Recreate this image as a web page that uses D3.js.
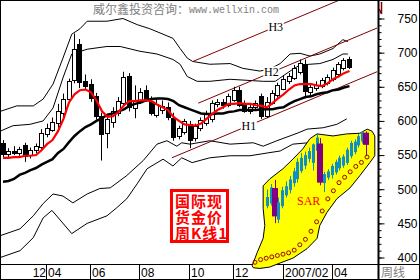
<!DOCTYPE html>
<html>
<head>
<meta charset="utf-8">
<script src="https://cdn.jsdelivr.net/npm/d3@7"></script>
<style>
html, body { margin: 0; padding: 0; background: #fff; }
svg { display: block; }
</style>
</head>
<body>
<div id="chart"></div>
<script>
// weekly gold, one candle per week (index 0 = week ending 2006-02-10)
const weekOpen = [568,552,556,553,565,549,557,563,581,588,
    596,612,632,660,712,658,654,636,607,582,
    598,612,627,666,618,630,646,629,609,616,
    620,604,578,584,596,575,590,597,602,624,
    628,624,632,646,625,614,620,636,607,627,
    638,648,658,664,672,684,642,648,651,655,
    661,668,677,691];
const weekHigh = [572,560,563,562,568,561,567,588,596,605,
    625,640,662,728,720,668,661,641,612,607,
    620,635,672,670,652,648,652,636,632,630,
    627,612,593,603,600,596,605,615,630,632,
    632,640,650,650,630,624,630,640,635,645,
    656,667,670,682,690,690,655,658,663,668,
    678,686,692,694];
const weekLow = [547,546,550,549,540,545,553,558,576,584,
    590,606,626,655,648,645,628,602,542,560,
    590,607,622,614,604,625,628,608,605,610,
    601,571,573,580,560,570,585,593,598,620,
    618,620,628,620,612,610,616,603,604,624,
    634,645,654,660,668,633,638,644,648,652,
    658,665,674,676];
const weekClose = [552,556,553,559,549,557,563,583,590,599,
    614,632,659,705,657,651,633,607,581,603,
    614,629,665,621,630,643,632,612,625,622,
    606,576,590,600,572,592,601,612,626,627,
    623,637,646,624,615,620,626,606,628,641,
    652,662,666,678,685,645,650,653,660,664,
    674,683,689,680];

// moving averages
const maRed = [546,546,547,547,549,549,550,557,566,572,
    585,603,627,639,645,646,642,630,614,606,
    607,613,623,629,629,630,630,629,624,620,
    616,606,600,595,594,593,596,603,610,616,
    620,625,625,626,625,625,623,622,620,626,
    633,639,646,652,654,654,654,652,651,655,
    661,665,670,673];
const maBlack = [511,512,515,521,524,528,531,536,540,544,
    553,559,569,578,585,591,595,600,604,609,
    611,614,617,622,625,627,630,632,633,633,
    632,629,623,620,617,614,611,610,610,611,
    611,613,614,616,616,616,616,617,617,617,
    619,620,625,629,632,635,636,639,641,642,
    645,646,649,651];

// band lines as [week, price]
const bandUpperOuter = [[-0.5,614],[2.5,622],[5.5,622],[7.3,632],[9.1,654],[10.9,692],[12.5,727],[14,735],
    [15.3,746],[18.9,746],[21.8,750],[24.4,741],[26.7,735],[29.1,727],[30.9,721],[32.2,706],[33.5,692],
    [34.5,687],[37.6,683],[41.3,684],[43.6,677],[46.7,673],[48.5,676],[50.4,684],[52.2,698],[54,699],
    [55.8,695],[57.6,698],[60,706],[61.8,719],[62.7,716]];
const bandUpperInner = [[-0.5,585],[1.8,593],[4.9,595],[7.3,600],[9.1,619],[10.9,663],[12.5,698],[15.3,705],
    [18.9,709],[21.3,709],[24.9,702],[28,698],[30.9,690],[32.2,683],[33.5,665],[35.3,658],[37.6,658],
    [41.3,661],[47.3,658],[49.5,658],[52.2,673],[54,682],[55.8,683],[57.6,684],[60,690],[61.8,698],[62.7,698]];
const bandLowerInner = [[-0.5,432],[3.1,442],[5.5,461],[7.3,479],[9.1,493],[10.9,490],[12.7,480],[15.3,493],
    [17.6,501],[19.5,502],[22.5,520],[25.5,542],[28,566],[29.8,571],[31.6,563],[32.5,568],[34,566],
    [37.6,571],[41.3,566],[45.5,568],[47.3,563],[49.8,571],[53.5,582],[55.3,588],[58.2,590],[60.7,595],[62.5,603]];
const bandLowerOuter = [[-0.5,400],[3.1,410],[5.5,429],[7.3,458],[8.9,469],[12.5,435],[15.3,450],[18.9,461],
    [20.7,473],[22.5,486],[24.4,508],[26.2,530],[29.1,544],[30.9,534],[32.5,546],[34.4,539],[37.6,546],
    [41.3,549],[44.9,549],[48,553],[50.4,556],[52.7,566],[55.5,568],[58.5,571],[62.5,578]];

// trend channel
const channelNames = ["H1", "H2", "H3"];
const channelLines = [[[30.7,546],[68,672]], [[35.5,626],[68,736]], [[34.5,687],[68,800]]];
const channelLabelWeek = [44.7, 48.8, 49.6];

const xTickWeeks = [8, 16, 25, 34, 42, 51, 60];
const xTickLabels = ["04", "06", "08", "10", "12", "2007/02", "04"];
const yTickValues = [400, 450, 500, 550, 600, 650, 700, 750];

// SAR inset
const sarOpen  = [644,646,657,634,644,652,656,661,664,670,674,679,676,685,690,661,665,667,669,672,674,676,681,684,689,692,698];
const sarClose = [650,657,636,646,655,658,663,669,676,679,681,684,689,694,661,667,669,673,676,679,680,685,690,691,695,698,689];
const sarHigh  = [656,660,663,650,658,662,666,672,679,683,684,687,690,697,694,669,671,675,678,681,682,687,692,693,697,699,699];
const sarLow   = [642,644,631,631,642,650,653,658,661,668,671,676,670,683,659,654,663,664,667,670,672,674,679,682,687,690,681];
const sarDots  = [602,604,605,606,607,608,609,611,615,619,625,632,640,649,655,661,665,669,673,676,680];
// highlight outline as [week, price]
const sarZone = [[45.3,388],[46.2,407],[47.3,428],[47.6,447],[47.3,472],[47.3,505],[48.5,515],[50.9,530],
    [52.7,544],[54.5,559],[55.8,574],[57.1,581],[60,578],[62.5,581],[64.9,582],[66.2,588],[67.1,585],
    [67.6,578],[67.6,549],[66.7,539],[64.9,520],[63.1,502],[60.7,486],[58.9,466],[57.6,447],[57.1,428],
    [55.3,413],[52.7,399],[50.4,392],[48.5,386],[46.7,384],[45.5,385]];

const width = 420, height = 280, plotRight = 378.5, plotBottom = 264.5;

const svg = d3.select("#chart").append("svg")
    .attr("width", width)
    .attr("height", height)
    .style("background", "#fff");

svg.append("defs").append("clipPath").attr("id", "plotClip")
    .append("rect").attr("x", 1).attr("y", 1).attr("width", 377).attr("height", 263);

const x = d3.scaleLinear().domain([0, 63]).range([3, 349.5]);
const y = d3.scaleLinear().domain([400, 750]).range([257.5, 18.5]);

const plot = svg.append("g").attr("clip-path", "url(#plotClip)");

const kpLine = d3.line().x(d => x(d[0])).y(d => y(d[1]));

[bandUpperOuter, bandUpperInner, bandLowerInner, bandLowerOuter].forEach(pts => {
    plot.append("path")
        .attr("d", kpLine(pts))
        .attr("fill", "none")
        .attr("stroke", "#000")
        .attr("stroke-width", 1);
});

channelLines.forEach(pts => {
    plot.append("path")
        .attr("d", kpLine(pts))
        .attr("fill", "none")
        .attr("stroke", "#800000")
        .attr("stroke-width", 1);
});

// candles
const idx = d3.range(weekOpen.length);
const candle = plot.selectAll(".candle")
    .data(idx)
    .enter()
    .append("g")
    .attr("class", "candle");

candle.append("line")
    .attr("x1", i => Math.round(x(i) - 2.5) + 2.5)
    .attr("x2", i => Math.round(x(i) - 2.5) + 2.5)
    .attr("y1", i => y(weekHigh[i]))
    .attr("y2", i => y(weekLow[i]))
    .attr("stroke", "#000");

candle.append("rect")
    .attr("x", i => Math.round(x(i) - 2.5) + 0.5)
    .attr("width", 4)
    .attr("y", i => Math.round(y(Math.max(weekOpen[i], weekClose[i]))) + 0.5)
    .attr("height", i => Math.max(1, Math.round(Math.abs(y(weekOpen[i]) - y(weekClose[i])))))
    .attr("fill", i => weekClose[i] >= weekOpen[i] ? "#fff" : "#000")
    .attr("stroke", "#000");

const maLine = d3.line().x((d, i) => x(i)).y(d => y(d));

plot.append("path")
    .attr("d", maLine(maBlack))
    .attr("fill", "none")
    .attr("stroke", "#000")
    .attr("stroke-width", 2.5);

plot.append("path")
    .attr("d", maLine(maRed))
    .attr("fill", "none")
    .attr("stroke", "#ff0000")
    .attr("stroke-width", 2.2);

// channel labels, placed on their lines
channelLines.forEach((pts, j) => {
    const along = d3.scaleLinear().domain([pts[0][0], pts[1][0]]).range([pts[0][1], pts[1][1]]);
    const cx = x(channelLabelWeek[j]);
    const cy = y(along(channelLabelWeek[j]));
    plot.append("rect")
        .attr("x", cx - 8).attr("y", cy - 6)
        .attr("width", 16).attr("height", 12)
        .attr("fill", "#fff");
    plot.append("text")
        .attr("x", cx).attr("y", cy + 4)
        .attr("text-anchor", "middle")
        .style("font-family", "'Liberation Serif', serif")
        .style("font-size", "12px")
        .attr("fill", "#000")
        .text(channelNames[j]);
});

// watermark
svg.append("text")
    .attr("x", 93).attr("y", 14)
    .style("font-family", "'Noto Sans CJK SC', sans-serif")
    .style("font-size", "12px")
    .attr("fill", "#808080")
    .text("威尔鑫投资咨询：");
svg.append("text")
    .attr("x", 189).attr("y", 13)
    .style("font-family", "'Liberation Mono', monospace")
    .style("font-size", "10px")
    .attr("fill", "#808080")
    .text("www.wellxin.com");

// red title box
svg.append("rect")
    .attr("x", 171.5).attr("y", 190.5)
    .attr("width", 56).attr("height", 51)
    .attr("fill", "#fff")
    .attr("stroke", "#ff0000")
    .attr("stroke-width", 3);
const boxText = svg.append("text")
    .style("font-family", "'Noto Sans CJK SC', sans-serif")
    .style("font-size", "15px")
    .style("font-weight", "bold")
    .style("letter-spacing", "1px")
    .attr("fill", "#ff0000");
["国际现", "货金价", "周K线1"].forEach((t, i) => {
    boxText.append("tspan")
        .attr("x", 175)
        .attr("y", 207 + i * 16)
        .text(t);
});

// bottom band line
svg.append("line").attr("x1", 0).attr("x2", width).attr("y1", plotBottom).attr("y2", plotBottom).attr("stroke", "#000");

// SAR inset
svg.append("path")
    .attr("d", d3.line().curve(d3.curveLinearClosed).x(d => x(d[0])).y(d => y(d[1]))(sarZone))
    .attr("fill", "#ffff00")
    .attr("stroke", "#000")
    .attr("stroke-width", 1);

const xIn = d3.scaleLinear().domain([0, sarOpen.length - 1]).range([267, 366]);
const xDot = d3.scaleLinear().domain([0, sarDots.length - 1]).range([255, 367]);
const yIn = d3.scaleLinear().domain([600, 700]).range([265, 130]);

const inset = svg.append("g");
const inCandle = inset.selectAll(".in-candle")
    .data(d3.range(sarOpen.length))
    .enter()
    .append("g");
inCandle.append("line")
    .attr("x1", i => Math.round(xIn(i)) + 0.5)
    .attr("x2", i => Math.round(xIn(i)) + 0.5)
    .attr("y1", i => yIn(sarHigh[i]))
    .attr("y2", i => yIn(sarLow[i]))
    .attr("stroke", i => sarClose[i] >= sarOpen[i] ? "#1090c0" : "#800080");
inCandle.append("rect")
    .attr("x", i => sarClose[i] >= sarOpen[i] ? Math.round(xIn(i)) - 1 + 0.5 : Math.round(xIn(i)) - 3)
    .attr("width", i => sarClose[i] >= sarOpen[i] ? 2 : 6)
    .attr("y", i => yIn(Math.max(sarOpen[i], sarClose[i])))
    .attr("height", i => Math.max(1, Math.abs(yIn(sarOpen[i]) - yIn(sarClose[i]))))
    .attr("fill", i => sarClose[i] >= sarOpen[i] ? "none" : "#800080")
    .attr("stroke", i => sarClose[i] >= sarOpen[i] ? "#1090c0" : "none");

inset.selectAll(".sar")
    .data(sarDots)
    .enter()
    .append("circle")
    .attr("cx", (d, i) => xDot(i))
    .attr("cy", d => yIn(d))
    .attr("r", 2)
    .attr("fill", "none")
    .attr("stroke", "#a00000")
    .attr("stroke-width", 1);

svg.append("text")
    .attr("x", 297).attr("y", 205)
    .style("font-family", "'Liberation Serif', serif")
    .style("font-size", "12px")
    .attr("fill", "#ff0000")
    .text("SAR");

// right price axis
const axisG = svg.append("g").attr("transform", `translate(${plotRight},0)`);
axisG.call(d3.axisRight(y).tickValues(y.ticks(35)).tickSize(3).tickFormat(""));
axisG.select(".domain").remove();
const majorG = svg.append("g").attr("transform", `translate(${plotRight},0)`);
majorG.call(d3.axisRight(y).tickValues(yTickValues).tickSize(6).tickFormat(d3.format("d")));
majorG.select(".domain").remove();
majorG.selectAll("text")
    .attr("x", 39)
    .attr("text-anchor", "end")
    .style("font-family", "'Liberation Sans', Arial, sans-serif")
    .style("font-size", "12px")
    .attr("fill", "#000");

svg.append("line")
    .attr("x1", plotRight).attr("x2", plotRight)
    .attr("y1", 0).attr("y2", height)
    .attr("stroke", "#000").attr("stroke-width", 2);

svg.append("path")
    .attr("d", "M381.5,2V14M381.5,14L379,9")
    .attr("fill", "none")
    .attr("stroke", "#800000")
    .attr("stroke-width", 1.5);

// time axis labels
const xTicks = svg.append("g");
xTickWeeks.forEach((w, i) => {
    const sx = Math.round(x(w) - 1) + 0.5;
    xTicks.append("line")
        .attr("x1", sx).attr("x2", sx)
        .attr("y1", plotBottom).attr("y2", height)
        .attr("stroke", "#000");
    xTicks.append("text")
        .attr("x", sx + 1.5).attr("y", 277)
        .style("font-family", "'Liberation Sans', Arial, sans-serif")
        .style("font-size", "12px")
        .attr("fill", "#000")
        .text(xTickLabels[i]);
});
xTicks.append("text")
    .attr("x", Math.round(x(xTickWeeks[0]) - 1)).attr("y", 277)
    .attr("text-anchor", "end")
    .style("font-family", "'Liberation Sans', Arial, sans-serif")
    .style("font-size", "12px")
    .attr("fill", "#000")
    .text("12");

svg.append("text")
    .attr("x", 381).attr("y", 277)
    .style("font-family", "'Noto Sans CJK SC', sans-serif")
    .style("font-size", "12px")
    .attr("fill", "#808080")
    .text("周线");

// outer frame
svg.append("rect")
    .attr("x", 0.5).attr("y", 0.5)
    .attr("width", width - 1).attr("height", height - 1)
    .attr("fill", "none")
    .attr("stroke", "#000");
</script>
</body>
</html>
